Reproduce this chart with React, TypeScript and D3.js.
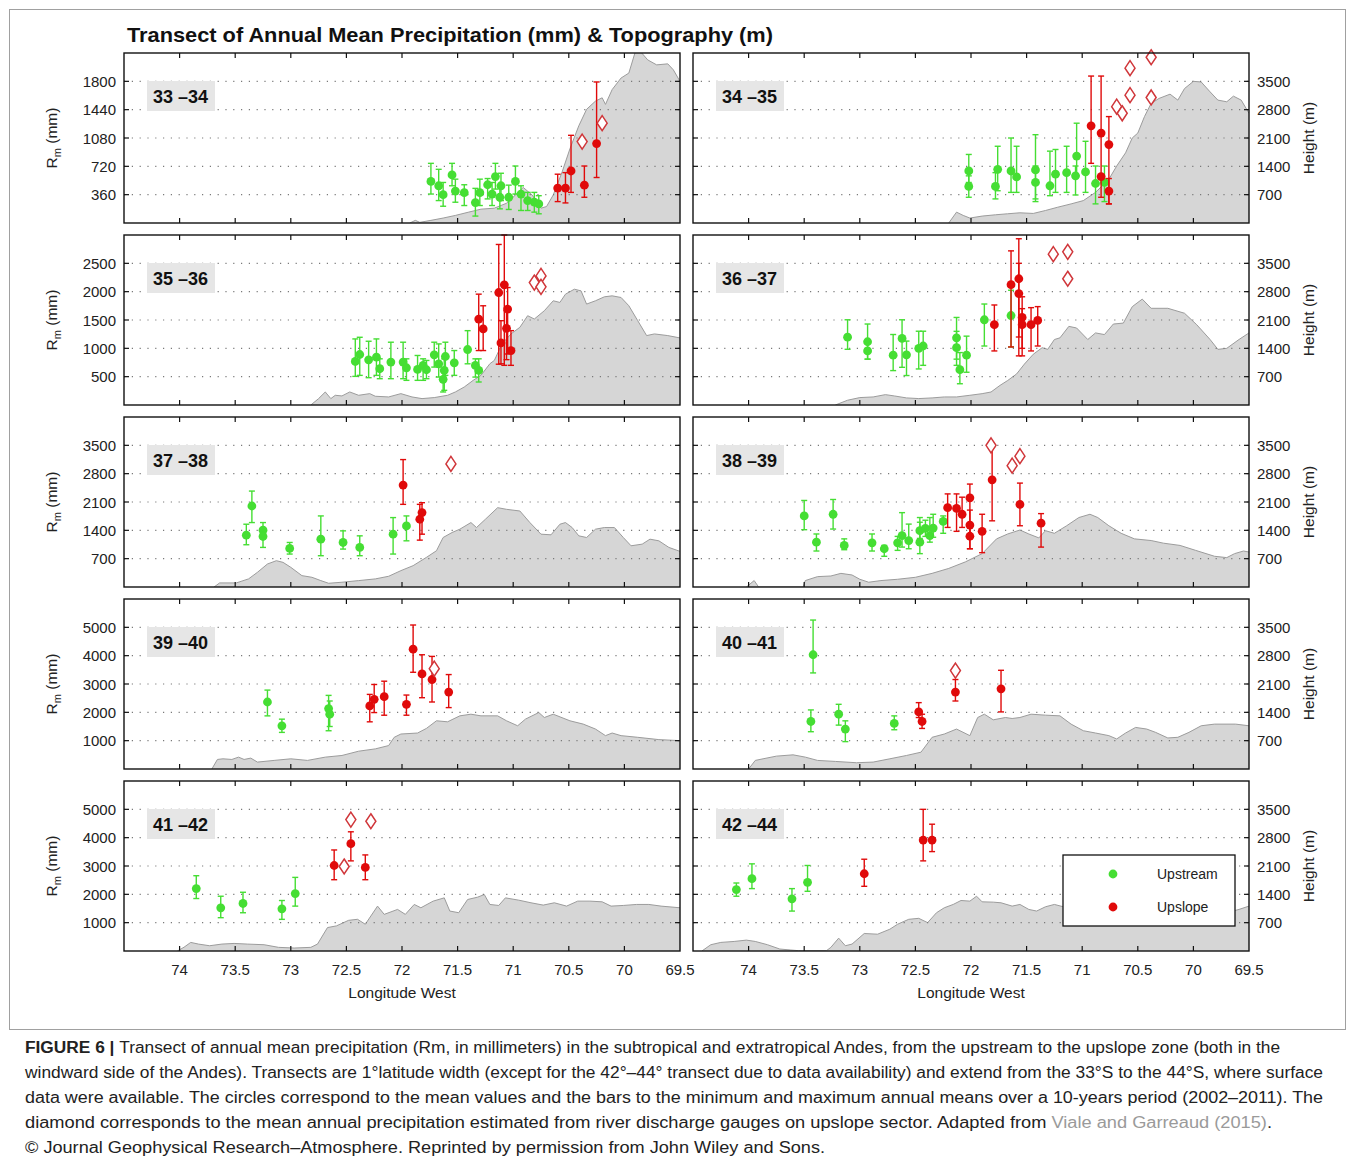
import React from "react";
import * as d3 from "d3";

// ---- transect labels and axis settings ----
const transectLabels = ["33 –34", "34 –35", "35 –36", "36 –37", "37 –38", "38 –39", "39 –40", "40 –41", "41 –42", "42 –44"];
const precipMax = [2160, 2160, 3000, 3000, 4200, 4200, 6000, 6000, 6000, 6000];
const precipTicks = [
  [360, 720, 1080, 1440, 1800],
  [360, 720, 1080, 1440, 1800],
  [500, 1000, 1500, 2000, 2500],
  [500, 1000, 1500, 2000, 2500],
  [700, 1400, 2100, 2800, 3500],
  [700, 1400, 2100, 2800, 3500],
  [1000, 2000, 3000, 4000, 5000],
  [1000, 2000, 3000, 4000, 5000],
  [1000, 2000, 3000, 4000, 5000],
  [1000, 2000, 3000, 4000, 5000],
];
const heightMax = 4200;
const heightTicks = [700, 1400, 2100, 2800, 3500];
const lonTicks = [74, 73.5, 73, 72.5, 72, 71.5, 71, 70.5, 70, 69.5];

// ---- stations: [longitude W, mean, min annual, max annual] (mm) ----
const upstream33 = [
  [71.74, 528, 368, 758], [71.67, 473, 285, 682], [71.63, 360, 213, 515], [71.55, 611, 473, 758],
  [71.52, 406, 264, 557], [71.44, 385, 222, 486], [71.34, 260, 88, 440], [71.30, 385, 222, 557],
  [71.23, 486, 306, 565], [71.19, 368, 222, 515], [71.16, 590, 431, 758], [71.12, 327, 180, 473],
  [71.11, 473, 285, 632], [71.04, 327, 172, 481], [70.98, 528, 368, 724], [70.93, 368, 159, 473],
  [70.87, 285, 159, 389], [70.81, 264, 138, 389], [70.77, 243, 117, 347],
];
const upslope33 = [
  [70.60, 444, 272, 620], [70.53, 444, 255, 640], [70.48, 661, 389, 1114], [70.36, 481, 327, 724],
  [70.25, 1009, 578, 1792],
];
const discharge33 = [[70.38, 1034], [70.20, 1268]];

const upstream34 = [
  [72.02, 661, 515, 871], [72.02, 465, 327, 599], [71.78, 465, 306, 640], [71.76, 682, 410, 975],
  [71.64, 661, 389, 1080], [71.59, 586, 389, 975], [71.42, 674, 306, 1122], [71.42, 515, 272, 724],
  [71.29, 473, 347, 913], [71.24, 620, 389, 934], [71.14, 640, 389, 975], [71.06, 599, 356, 724],
  [71.05, 850, 599, 1268], [70.97, 649, 389, 1038], [70.88, 502, 243, 724], [70.80, 515, 272, 724],
];
const upslope34 = [
  [70.92, 1235, 758, 1867], [70.83, 590, 327, 1867], [70.83, 1143, 1143, 1143],
  [70.76, 996, 243, 1352], [70.76, 406, 243, 565],
];
const discharge34 = [[70.69, 1478], [70.64, 1394], [70.57, 1967], [70.57, 1624], [70.38, 2106], [70.38, 1595]];

const upstream35 = [
  [72.42, 768, 505, 1166], [72.38, 891, 523, 1195], [72.30, 798, 482, 1125], [72.23, 844, 523, 1166],
  [72.20, 640, 464, 815], [72.10, 757, 464, 1108], [71.99, 757, 464, 1108], [71.96, 657, 435, 815],
  [71.86, 628, 435, 874], [71.81, 698, 435, 815], [71.78, 622, 464, 786], [71.71, 885, 669, 1108],
  [71.67, 727, 493, 1078], [71.62, 610, 259, 815], [71.61, 856, 523, 1108], [71.63, 453, 230, 610],
  [71.53, 745, 523, 961], [71.41, 979, 727, 1312], [71.34, 698, 493, 815], [71.31, 610, 406, 815],
];
const upslope35 = [
  [71.31, 1517, 961, 1956], [71.27, 1342, 961, 1751], [71.13, 1985, 720, 2833], [71.11, 1096, 727, 1488],
  [71.08, 2120, 700, 3000], [71.06, 1353, 800, 1663], [71.05, 1693, 900, 2073], [71.02, 961, 700, 1312],
];
const discharge35 = [[70.81, 2161], [70.75, 2278], [70.75, 2085]];

const upstream36 = [
  [73.11, 1197, 983, 1504], [72.93, 1116, 809, 1429], [72.93, 954, 809, 1116], [72.70, 879, 607, 1244],
  [72.62, 1174, 665, 1504], [72.58, 885, 520, 1128], [72.47, 1000, 636, 1302], [72.43, 1041, 700, 1302],
  [72.13, 1186, 809, 1545], [72.13, 1012, 700, 1300], [72.10, 624, 375, 925], [72.04, 879, 578, 1215],
  [71.88, 1504, 1041, 1782], [71.64, 1579, 1024, 2025],
];
const upslope36 = [
  [71.79, 1417, 954, 1765], [71.64, 2124, 1024, 2720], [71.57, 2228, 867, 2934], [71.57, 1967, 1200, 2500],
  [71.54, 1545, 867, 1910], [71.54, 1417, 1000, 1700], [71.46, 1417, 954, 1718], [71.40, 1493, 1041, 1736],
];
const discharge36 = [[71.26, 2662], [71.13, 2703], [71.13, 2228]];

const upstream37 = [
  [73.40, 1281, 1044, 1551], [73.35, 2001, 1592, 2370], [73.25, 1403, 1240, 1592], [73.25, 1248, 978, 1400],
  [73.01, 953, 814, 1100], [72.73, 1182, 773, 1756], [72.53, 1100, 937, 1387], [72.38, 978, 773, 1264],
  [72.08, 1305, 814, 1715], [71.96, 1510, 1141, 1756],
];
const upslope37 = [
  [71.99, 2517, 2042, 3148], [71.84, 1674, 1158, 2042], [71.82, 1838, 1305, 2083],
];
const discharge37 = [[71.56, 3041]];

const upstream38 = [
  [73.50, 1756, 1416, 2138], [73.39, 1108, 889, 1310], [73.24, 1797, 1432, 2162], [73.14, 1027, 921, 1189],
  [72.89, 1091, 889, 1310], [72.78, 945, 759, 1027], [72.66, 1091, 905, 1250], [72.62, 1270, 986, 1837],
  [72.56, 1148, 945, 1554], [72.46, 1108, 824, 1716], [72.46, 1391, 1200, 1600], [72.41, 1448, 1250, 1650],
  [72.37, 1270, 1108, 1716], [72.34, 1456, 1229, 1797], [72.25, 1619, 1327, 1756],
];
const upslope38 = [
  [72.21, 1959, 1472, 2300], [72.13, 1943, 1375, 2300], [72.08, 1797, 1472, 2219], [72.01, 2202, 945, 2543],
  [72.01, 1529, 1200, 1900], [72.01, 1254, 945, 1500], [71.90, 1375, 848, 1797], [71.81, 2648, 1635, 3450],
  [71.56, 2040, 1513, 2567], [71.37, 1578, 986, 1813],
];
const discharge38 = [[71.82, 3500], [71.63, 2997], [71.56, 3232]];

const upstream39 = [
  [73.21, 2365, 1875, 2785], [73.08, 1525, 1292, 1759], [72.66, 2132, 1350, 2598], [72.65, 1933, 1500, 2400],
];
const upslope39 = [
  [72.29, 2225, 1665, 2633], [72.25, 2458, 1992, 2983], [72.16, 2551, 1898, 3099], [71.96, 2283, 1898, 2610],
  [71.90, 4230, 3414, 5082], [71.82, 3356, 2516, 4032], [71.73, 3158, 2365, 3974], [71.58, 2715, 2167, 3333],
];
const discharge39 = [[71.71, 3542]];

const upstream40 = [
  [73.42, 4032, 3391, 5257], [73.44, 1677, 1316, 2085], [73.19, 1933, 1549, 2283], [73.13, 1409, 966, 1700],
  [72.69, 1607, 1385, 1875],
];
const upslope40 = [
  [72.47, 2015, 1817, 2342], [72.44, 1677, 1432, 1933], [72.14, 2715, 2400, 3158], [71.73, 2831, 2015, 3484],
];
const discharge40 = [[72.14, 3473]];

const upstream41 = [
  [73.85, 2202, 1852, 2657], [73.63, 1525, 1176, 1933], [73.43, 1677, 1350, 2073], [73.08, 1490, 1117, 1782],
  [72.96, 2027, 1584, 2598],
];
const upslope41 = [
  [72.61, 3018, 2516, 3566], [72.46, 3787, 3181, 4207], [72.33, 2948, 2516, 3391],
];
const discharge41 = [[72.46, 4639], [72.28, 4580], [72.52, 2983]];

const upstream42 = [
  [74.11, 2167, 1933, 2400], [73.97, 2551, 2202, 3076], [73.61, 1840, 1409, 2202], [73.47, 2423, 2108, 3018],
];
const upslope42 = [
  [72.96, 2726, 2283, 3239], [72.43, 3916, 3181, 5000], [72.35, 3916, 3508, 4475],
];
const discharge42: number[][] = [];

// ---- topography profiles: [longitude W, height m] ----
const topo33 = [[71.93,0],[71.88,65],[71.84,16],[71.74,65],[71.63,122],[71.52,187],[71.40,269],[71.29,342],[71.17,366],[71.06,488],[70.98,692],[70.91,879],[70.83,692],[70.75,366],[70.70,407],[70.64,692],[70.56,1262],[70.49,1832],[70.41,2401],[70.34,2808],[70.26,3012],[70.20,3093],[70.17,2930],[70.11,3297],[70.03,3582],[69.96,3704],[69.90,4250],[69.86,4250],[69.79,4029],[69.71,3907],[69.61,3932],[69.56,3785],[69.50,3500]];
const topo34 = [[72.20,0],[72.13,268],[72.07,187],[72.01,122],[71.90,171],[71.78,203],[71.67,228],[71.56,252],[71.44,236],[71.33,309],[71.22,390],[71.10,472],[70.99,553],[70.88,757],[70.76,1082],[70.69,1408],[70.61,1734],[70.55,2100],[70.50,2222],[70.44,2629],[70.38,2955],[70.31,3077],[70.21,3183],[70.14,3036],[70.08,3321],[70.00,3500],[69.93,3484],[69.85,3240],[69.78,3036],[69.70,2995],[69.64,3134],[69.57,3036],[69.50,2710]];
const topo35 = [[72.82,0],[72.75,158],[72.69,322],[72.64,158],[72.60,240],[72.54,224],[72.47,322],[72.39,240],[72.29,281],[72.24,216],[72.12,199],[72.01,281],[71.91,199],[71.82,158],[71.71,183],[71.59,240],[71.52,322],[71.44,445],[71.36,609],[71.29,732],[71.21,1019],[71.17,1100],[71.10,1510],[71.02,1756],[70.94,1919],[70.87,2206],[70.81,2124],[70.72,2329],[70.64,2575],[70.58,2534],[70.53,2738],[70.45,2861],[70.39,2820],[70.34,2493],[70.26,2575],[70.18,2673],[70.11,2697],[70.03,2656],[69.96,2452],[69.88,2083],[69.80,1715],[69.73,1756],[69.61,1715],[69.50,1657]];
const topo36 = [[73.22,0],[73.11,118],[73.00,183],[72.88,199],[72.77,256],[72.69,224],[72.58,175],[72.47,159],[72.35,175],[72.24,199],[72.13,199],[72.01,240],[71.90,280],[71.82,321],[71.74,483],[71.67,605],[71.59,767],[71.52,1010],[71.44,1254],[71.36,1416],[71.31,1375],[71.25,1618],[71.20,1659],[71.12,1943],[71.05,1902],[70.95,1618],[70.88,1781],[70.80,1740],[70.72,2000],[70.63,2024],[70.55,2429],[70.46,2616],[70.38,2389],[70.23,2389],[70.08,2267],[69.97,1983],[69.85,1618],[69.78,1375],[69.70,1400],[69.59,1618],[69.50,1781]];
const topo37 = [[73.69,0],[73.64,101],[73.49,101],[73.38,200],[73.30,363],[73.21,568],[73.13,650],[73.07,609],[73.00,486],[72.90,281],[72.81,240],[72.73,158],[72.66,92],[72.54,118],[72.39,158],[72.24,200],[72.12,265],[72.01,404],[71.90,527],[71.78,732],[71.69,896],[71.63,1223],[71.55,1346],[71.48,1428],[71.38,1592],[71.33,1469],[71.25,1674],[71.14,1960],[71.06,1919],[70.94,1878],[70.85,1592],[70.75,1305],[70.66,1289],[70.58,1551],[70.53,1592],[70.47,1469],[70.41,1264],[70.34,1223],[70.26,1428],[70.18,1469],[70.09,1469],[70.01,1223],[69.94,1018],[69.84,1059],[69.77,1182],[69.69,1141],[69.60,978],[69.50,880]];
const topo38 = [[74.02,0],[73.95,159],[73.91,0],[73.51,0],[73.49,159],[73.38,256],[73.26,272],[73.17,337],[73.07,297],[73.00,191],[72.92,118],[72.81,159],[72.66,191],[72.50,240],[72.35,337],[72.20,459],[72.05,621],[71.90,824],[71.77,1189],[71.67,1310],[71.56,1408],[71.48,1310],[71.39,1213],[71.33,1391],[71.25,1327],[71.14,1513],[71.03,1716],[70.93,1797],[70.86,1716],[70.76,1513],[70.65,1327],[70.53,1189],[70.38,1148],[70.27,1083],[70.12,1027],[69.98,905],[69.81,759],[69.70,726],[69.63,824],[69.55,889],[69.50,864]];
const topo39 = [[73.71,0],[73.66,236],[73.61,252],[73.53,236],[73.47,293],[73.42,236],[73.36,269],[73.30,171],[73.15,212],[73.00,252],[72.85,212],[72.69,293],[72.54,334],[72.39,440],[72.24,497],[72.12,579],[72.07,783],[72.01,864],[71.86,889],[71.78,1003],[71.69,1191],[71.59,1166],[71.48,1313],[71.38,1354],[71.29,1313],[71.14,1313],[71.06,1191],[70.96,1068],[70.89,1232],[70.77,1395],[70.72,1272],[70.64,1354],[70.49,1191],[70.37,1109],[70.26,987],[70.17,824],[70.11,889],[70.03,824],[69.88,783],[69.69,726],[69.50,701]];
const topo40 = [[74.00,0],[73.94,212],[73.87,252],[73.75,318],[73.60,350],[73.49,293],[73.38,212],[73.22,187],[73.03,155],[72.88,171],[72.73,252],[72.58,334],[72.45,415],[72.35,783],[72.24,864],[72.13,987],[72.01,824],[71.94,1272],[71.88,1354],[71.80,1215],[71.69,1272],[71.63,1248],[71.56,1272],[71.46,1354],[71.33,1330],[71.20,1313],[71.10,1109],[70.99,946],[70.88,889],[70.76,824],[70.69,742],[70.61,889],[70.52,1027],[70.42,987],[70.34,905],[70.23,767],[70.14,783],[70.04,905],[69.93,1068],[69.81,1109],[69.62,1109],[69.50,1068]];
const topo41 = [[74.02,0],[73.96,94],[73.90,212],[73.83,171],[73.73,130],[73.62,171],[73.51,187],[73.39,171],[73.24,155],[73.11,90],[72.97,73],[72.82,90],[72.76,171],[72.67,579],[72.59,620],[72.48,758],[72.40,783],[72.33,661],[72.22,1109],[72.16,905],[72.04,1027],[71.97,905],[71.89,1150],[71.83,1068],[71.72,1232],[71.62,1313],[71.57,987],[71.49,946],[71.41,1272],[71.32,1330],[71.26,1395],[71.21,1150],[71.13,1125],[71.07,1313],[70.95,1256],[70.84,1191],[70.73,1134],[70.63,1191],[70.52,1109],[70.42,1232],[70.31,1232],[70.20,1215],[70.12,1109],[70.01,1125],[69.89,1150],[69.78,1150],[69.67,1109],[69.50,1068]];
const topo42 = [[74.42,0],[74.34,155],[74.25,212],[74.13,236],[74.02,269],[73.94,236],[73.83,155],[73.72,49],[73.62,24],[73.55,8],[73.30,8],[73.26,90],[73.19,318],[73.13,130],[73.07,171],[72.96,432],[72.84,415],[72.73,538],[72.66,661],[72.56,783],[72.47,807],[72.39,701],[72.31,946],[72.24,1068],[72.16,1150],[72.09,1248],[72.01,1232],[71.95,1354],[71.90,1215],[71.80,1207],[71.73,1191],[71.63,1109],[71.56,1150],[71.48,1027],[71.41,987],[71.33,1093],[71.25,1150],[71.18,1100],[71.03,1085],[70.84,987],[70.65,946],[70.46,987],[70.27,905],[70.08,905],[69.89,824],[69.70,946],[69.59,1027],[69.50,1109]];

const upstreamSets = [upstream33, upstream34, upstream35, upstream36, upstream37, upstream38, upstream39, upstream40, upstream41, upstream42];
const upslopeSets = [upslope33, upslope34, upslope35, upslope36, upslope37, upslope38, upslope39, upslope40, upslope41, upslope42];
const dischargeSets = [discharge33, discharge34, discharge35, discharge36, discharge37, discharge38, discharge39, discharge40, discharge41, discharge42];
const topoSets = [topo33, topo34, topo35, topo36, topo37, topo38, topo39, topo40, topo41, topo42];

const legendItems = ["Upstream", "Upslope"];

const captionLines = [
  "Transect of annual mean precipitation (Rm, in millimeters) in the subtropical and extratropical Andes, from the upstream to the upslope zone (both in the",
  "windward side of the Andes). Transects are 1°latitude width (except for the 42°–44° transect due to data availability) and extend from the 33°S to the 44°S, where surface",
  "data were available. The circles correspond to the mean values and the bars to the minimum and maximum annual means over a 10-years period (2002–2011). The",
  "diamond corresponds to the mean annual precipitation estimated from river discharge gauges on upslope sector. Adapted from ",
  "© Journal Geophysical Research–Atmosphere. Reprinted by permission from John Wiley and Sons.",
];

// ---- layout ----
const FONT = "'Liberation Sans', Arial, Helvetica, sans-serif";
const COL_X = [124, 693];
const ROW_Y = [53, 235, 417, 599, 781];
const PW = 556;
const PH = 170;
const GREEN = "#45de33";
const RED = "#e00a0a";
const DIAMOND = "#d0363a";

function StationMarks({ data, color, x, y }: any) {
  return (
    <g>
      {data.map((d: number[], i: number) => {
        const cx = x(d[0]);
        return (
          <g key={i}>
            {d[2] !== d[3] && (
              <g stroke={color} strokeWidth={1.4}>
                <line x1={cx} x2={cx} y1={y(d[2])} y2={y(d[3])} />
                <line x1={cx - 3} x2={cx + 3} y1={y(d[2])} y2={y(d[2])} />
                <line x1={cx - 3} x2={cx + 3} y1={y(d[3])} y2={y(d[3])} />
              </g>
            )}
            <circle cx={cx} cy={y(d[1])} r={4.4} fill={color} />
          </g>
        );
      })}
    </g>
  );
}

function Panel({ idx }: { idx: number }) {
  const col = idx % 2;
  const row = Math.floor(idx / 2);
  const x0 = COL_X[col];
  const y0 = ROW_Y[row];
  const x = d3.scaleLinear().domain([74.5, 69.5]).range([x0, x0 + PW]);
  const yP = d3.scaleLinear().domain([0, precipMax[idx]]).range([y0 + PH, y0]);
  const yH = d3.scaleLinear().domain([0, heightMax]).range([y0 + PH, y0]);
  const topo = topoSets[idx];
  const area = d3.area<number[]>().x((d) => x(d[0])).y0(y0 + PH).y1((d) => yH(d[1]));
  const ridge = d3.line<number[]>().x((d) => x(d[0])).y((d) => yH(d[1]));
  const clipId = `clip-panel-${idx}`;
  const ticks = precipTicks[idx];
  const isBottom = row === 4;
  const diamonds = dischargeSets[idx];

  return (
    <g>
      <defs>
        <clipPath id={clipId}>
          <rect x={x0} y={y0} width={PW} height={PH} />
        </clipPath>
      </defs>
      <g clipPath={`url(#${clipId})`}>
        <path d={area(topo) || ""} fill="#d6d6d6" />
        <path d={ridge(topo) || ""} fill="none" stroke="#9c9c9c" strokeWidth={1} />
      </g>
      {/* dotted grid */}
      {ticks.map((t) => (
        <line key={t} x1={x0} x2={x0 + PW} y1={yP(t)} y2={yP(t)} stroke="#7a7a7a" strokeWidth={1.1} strokeDasharray="1.2 6.6" />
      ))}
      {/* transect label */}
      <rect x={x0 + 23} y={y0 + 28} width={68} height={30} fill="#e6e6e6" />
      <text x={x0 + 29} y={y0 + 50} fontSize={18} fontWeight="bold" fill="#111">{transectLabels[idx]}</text>

      <StationMarks data={upstreamSets[idx]} color={GREEN} x={x} y={yP} />
      <StationMarks data={upslopeSets[idx]} color={RED} x={x} y={yP} />
      {diamonds.map((d, i) => {
        const cx = x(d[0]);
        const cy = yP(d[1]);
        return (
          <path key={i} d={`M${cx},${cy - 7.5}L${cx + 5},${cy}L${cx},${cy + 7.5}L${cx - 5},${cy}Z`} fill="white" stroke={DIAMOND} strokeWidth={1.5} />
        );
      })}

      {/* frame and ticks */}
      <rect x={x0} y={y0} width={PW} height={PH} fill="none" stroke="#111" strokeWidth={1.4} />
      {lonTicks.slice(0, -1).map((t) => (
        <g key={t} stroke="#111" strokeWidth={1.2}>
          <line x1={x(t)} x2={x(t)} y1={y0 + PH} y2={y0 + PH - 5} />
          <line x1={x(t)} x2={x(t)} y1={y0} y2={y0 + 5} />
        </g>
      ))}
      {ticks.map((t) => (
        <g key={t} stroke="#111" strokeWidth={1.2}>
          <line x1={x0} x2={x0 + 5} y1={yP(t)} y2={yP(t)} />
          <line x1={x0 + PW} x2={x0 + PW - 5} y1={yP(t)} y2={yP(t)} />
        </g>
      ))}

      {col === 0 &&
        ticks.map((t) => (
          <text key={t} x={x0 - 8} y={yP(t) + 5.5} fontSize={15} textAnchor="end" fill="#222">{t}</text>
        ))}
      {col === 0 && (
        <text transform={`translate(57, ${y0 + PH / 2}) rotate(-90)`} fontSize={15.5} textAnchor="middle" fill="#222">
          R<tspan dy={4} fontSize={11}>m</tspan><tspan dy={-4}> (mm)</tspan>
        </text>
      )}
      {col === 1 &&
        heightTicks.map((t) => (
          <text key={t} x={x0 + PW + 8} y={yH(t) + 5.5} fontSize={15} fill="#222">{t}</text>
        ))}
      {col === 1 && (
        <text transform={`translate(1314, ${y0 + PH / 2}) rotate(-90)`} fontSize={15.5} textAnchor="middle" fill="#222">Height (m)</text>
      )}
      {isBottom &&
        lonTicks.map((t) => (
          <text key={t} x={x(t)} y={y0 + PH + 24} fontSize={15} textAnchor="middle" fill="#222">{String(t)}</text>
        ))}
      {isBottom && (
        <text x={x0 + PW / 2} y={y0 + PH + 47} fontSize={15.5} textAnchor="middle" fill="#222">Longitude West</text>
      )}
      {idx === 9 && (
        <g>
          <rect x={x0 + 370} y={y0 + 74} width={172} height={71} fill="white" stroke="#111" strokeWidth={1.3} />
          {legendItems.map((name, i) => (
            <g key={name}>
              <circle cx={x0 + 420} cy={y0 + 93 + i * 33} r={4.4} fill={i === 0 ? GREEN : RED} />
              <text x={x0 + 464} y={y0 + 98 + i * 33} fontSize={14} fill="#222">{name}</text>
            </g>
          ))}
        </g>
      )}
    </g>
  );
}

export default function App() {
  const captionWidths = [1255, 1298, 1298, 1247, 800];
  return (
    <svg width={1355} height={1163} style={{ position: "absolute", left: 0, top: 0, fontFamily: FONT }}>
      <rect width={1355} height={1163} fill="white" />
      <rect x={9.5} y={9.5} width={1336} height={1020} fill="none" stroke="#a0a0a0" strokeWidth={1} />
      <text x={127} y={42} fontSize={21} fontWeight="bold" fill="#111" textLength={646} lengthAdjust="spacingAndGlyphs">
        Transect of Annual Mean Precipitation (mm) &amp; Topography (m)
      </text>
      {transectLabels.map((_, i) => (
        <Panel key={i} idx={i} />
      ))}
      <g fontSize={16} fill="#222">
        <text x={25} y={1053} textLength={captionWidths[0]} lengthAdjust="spacingAndGlyphs">
          <tspan fontWeight="bold">FIGURE 6 | </tspan>
          {captionLines[0]}
        </text>
        <text x={25} y={1078} textLength={captionWidths[1]} lengthAdjust="spacingAndGlyphs">{captionLines[1]}</text>
        <text x={25} y={1103} textLength={captionWidths[2]} lengthAdjust="spacingAndGlyphs">{captionLines[2]}</text>
        <text x={25} y={1128} textLength={captionWidths[3]} lengthAdjust="spacingAndGlyphs">
          {captionLines[3]}
          <tspan fill="#9a9a9a">Viale and Garreaud (2015)</tspan>.
        </text>
        <text x={25} y={1153} textLength={captionWidths[4]} lengthAdjust="spacingAndGlyphs">{captionLines[4]}</text>
      </g>
    </svg>
  );
}
